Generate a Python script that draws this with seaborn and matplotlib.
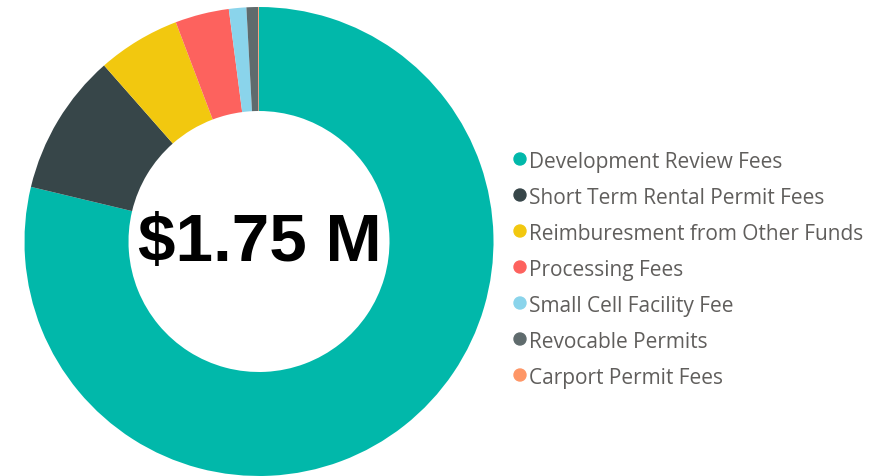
import matplotlib
matplotlib.use('Agg')
import matplotlib.pyplot as plt
import seaborn as sns

# revenue by category, in thousands of dollars
categories = ['Development Review Fees', 'Short Term Rental Permit Fees',
              'Reimburesment from Other Funds', 'Processing Fees',
              'Small Cell Facility Fee', 'Revocable Permits', 'Carport Permit Fees']
values = [1378, 171, 100, 65, 21, 14, 1]
colors = ['#01B8AA', '#374649', '#F2C80F', '#FD625E', '#8AD4EB', '#5F6B6D', '#FE9666']
total_label = '$1.75 M'

sns.set_theme(style='white')
plt.rcParams['font.family'] = ['Open Sans', 'DejaVu Sans']

W, H = 869, 477
fig = plt.figure(figsize=(W/100, H/100), dpi=100)

# donut centre (259, 242.5) px, outer radius 234.5 px
cx, cy, r = 259, 242.5, 234.5
ax = fig.add_axes([(cx - r)/W, (H - cy - r)/H, 2*r/W, 2*r/H])
pal = sns.color_palette(colors)
ax.pie(values, colors=pal, startangle=90, counterclock=False, radius=1,
       wedgeprops=dict(width=1 - 130.5/234.5, linewidth=0))
ax.set_xlim(-1, 1)
ax.set_ylim(-1, 1)
ax.set_aspect('equal')
ax.axis('off')

ax.text(0.005, -0.005, total_label, ha='center', va='center', fontsize=48.5,
        fontweight='bold', family=['Liberation Sans', 'DejaVu Sans'], color='black')

# legend
y0 = 160
for i, (name, c) in enumerate(zip(categories, colors)):
    yy = 1 - (y0 + 36*i)/H
    fig.patches.append(matplotlib.patches.Ellipse((520/W, yy), 12/W, 12/H,
                       transform=fig.transFigure, color=c, figure=fig))
    fig.text(529/W, yy, name, ha='left', va='center_baseline', fontsize=15,
             color='#605E5C')

plt.savefig('out.png', dpi=100)
